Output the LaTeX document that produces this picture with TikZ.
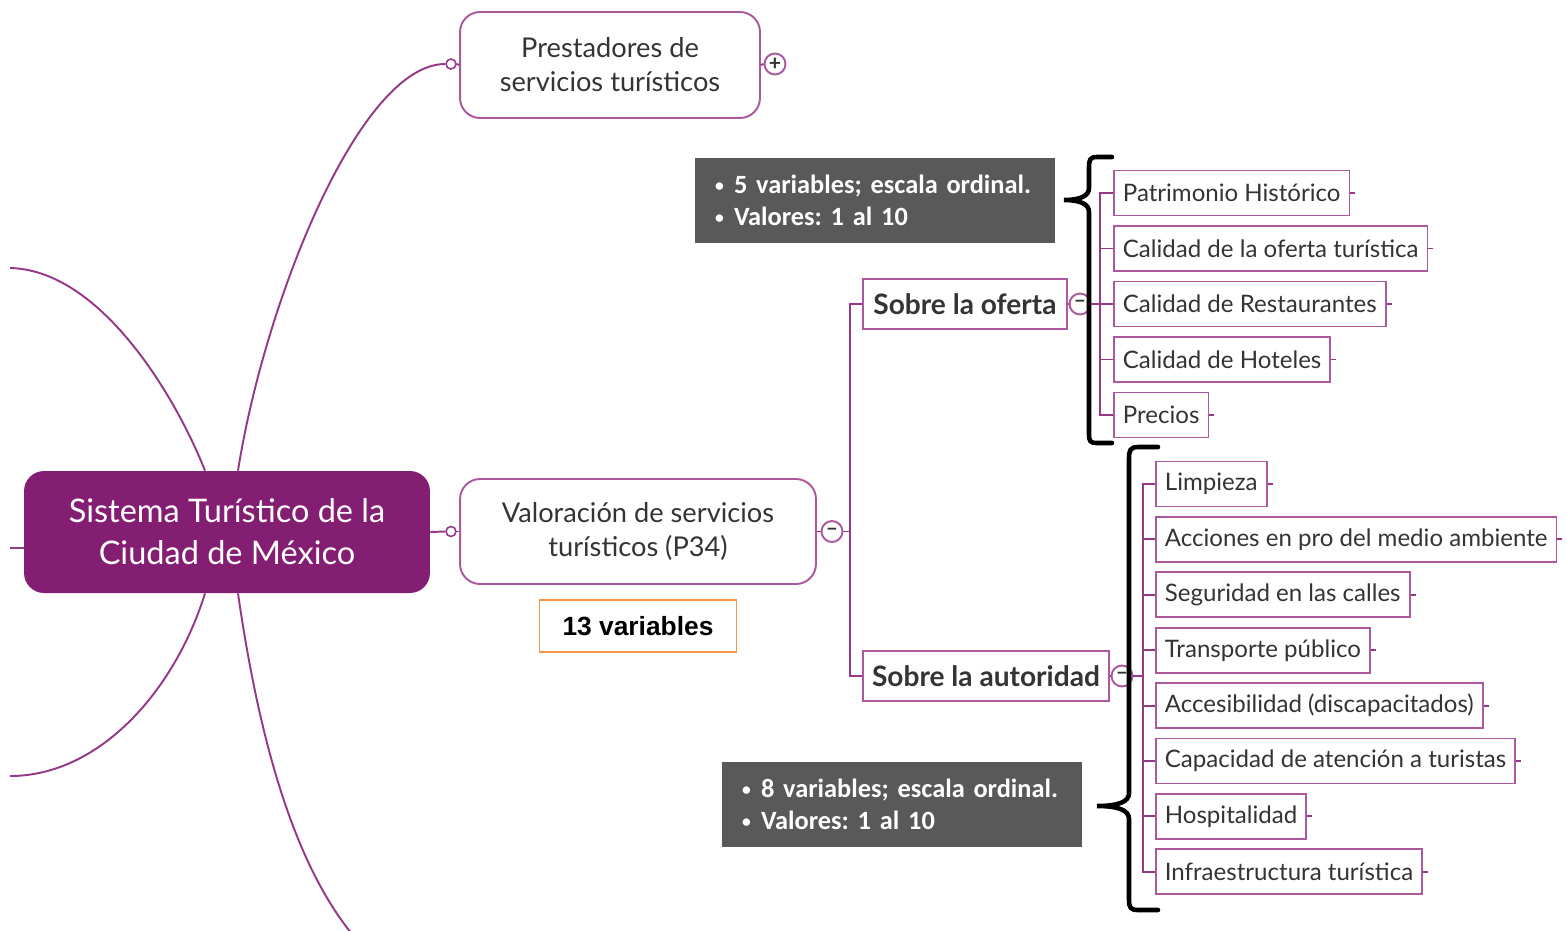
\documentclass[tikz,border=0pt]{standalone}
\usepackage{fontspec}
\setmainfont{Lato}
\newfontfamily\notefont{Carlito}
\newfontfamily\tallyfont{Liberation Sans}
\usepackage{tikz}
\usetikzlibrary{positioning}
\definecolor{mapplum}{RGB}{132,30,114}
\definecolor{mapline}{RGB}{150,55,135}
\definecolor{mapedge}{RGB}{172,88,158}
\definecolor{notegray}{RGB}{89,89,89}
\definecolor{tallyorange}{RGB}{247,150,70}
\definecolor{inktext}{RGB}{52,52,52}
\newcommand{\notebullet}{\makebox[0.38cm][l]{\raisebox{0.15ex}{\fontsize{10}{10}\selectfont\textbullet}}}
\frenchspacing

\begin{document}
\begin{tikzpicture}[
  x=0.02cm, y=-0.02cm,
  rootbox/.style={rectangle, rounded corners=0.4cm, fill=mapplum, text=white, minimum width=8.12cm, minimum height=2.44cm, align=center, font=\fontsize{18.5}{24}\selectfont},
  topicbox/.style={rectangle, rounded corners=0.4cm, draw=mapedge, line width=1.1pt, fill=white, text=inktext, align=center, font=\fontsize{15.5}{19.3}\selectfont},
  branchbox/.style={rectangle, draw=mapedge, line width=1.1pt, fill=white, text=inktext, minimum height=1cm, anchor=west, font=\bfseries\fontsize{16}{18}\selectfont},
  itembox/.style={rectangle, draw=mapedge, line width=1pt, fill=white, text=inktext, minimum height=0.9cm, inner xsep=0.18cm, anchor=west, font=\fontsize{13.7}{15}\selectfont},
  notebox/.style={rectangle, fill=notegray, text=white, inner xsep=0.4cm, text width=6.4cm, minimum height=1.7cm, align=left, font=\notefont\bfseries\fontsize{15}{18.1}\selectfont},
  tallybox/.style={rectangle, draw=tallyorange, line width=0.9pt, fill=white, minimum width=3.94cm, minimum height=1.04cm, font=\tallyfont\bfseries\fontsize{15}{17}\selectfont},
  branch/.style={draw=mapline, line width=1.1pt},
  socket/.style={circle, draw=mapline, fill=white, line width=0.9pt, inner sep=0pt, minimum size=0.2cm},
  knob/.style={circle, draw=mapedge, fill=white, line width=1.1pt, inner sep=0pt, minimum size=0.42cm, text=inktext, font=\bfseries\fontsize{12}{12}\selectfont},
  bracket/.style={black, line width=2.6pt, line cap=round}
]
\useasboundingbox (0,0) rectangle (1567,930);

% central topic and its two branches
\node[rootbox] (root) at (227,532) {Sistema Turístico de la\\ Ciudad de México};
\node[topicbox, minimum width=6cm, minimum height=2.12cm] (prest) at (610,65) {Prestadores de\\ servicios turísticos};
\node[topicbox, minimum width=7.12cm, minimum height=2.1cm] (valor) at (638,531.5) {Valoración de servicios\\ turísticos (P34)};
\node[tallybox, below=0.28cm of valor] (tally) {13 variables};

\node[socket] (psock) at (451,64) {};
\node[socket] (vsock) at (451,531.5) {};
\node[knob] (pknob) at (775,64) {+};
\node[knob] (vknob) at (832,531.5) {--};

% loose ends of the other branches
\coordinate (lostA) at (10,268);
\coordinate (lostB) at (10,776);
\coordinate (lostC) at (352,934);
\coordinate (lostD) at (10,548);

\draw[branch] ([xshift=-0.44cm]root.north) .. controls (175,395) and (100,270) .. (lostA);
\draw[branch] ([xshift=0.22cm]root.north) .. controls (265,300) and (360,64) .. (psock.west);
\draw[branch] ([xshift=-0.44cm]root.south) .. controls (175,690) and (100,776) .. (lostB);
\draw[branch] ([xshift=0.22cm]root.south) .. controls (262,760) and (300,870) .. (lostC);
\draw[branch] (root.west |- lostD) -- (lostD);
\draw[branch] (root.east) -- (vsock.west);
\draw[branch] (vsock.east) -- (valor.west);
\draw[branch] (psock.east) -- (prest.west);
\draw[branch] (prest.east) -- (pknob.west);

% second level
\node[branchbox, minimum width=4.08cm] (oferta) at (862,304) {Sobre la oferta};
\node[branchbox, minimum width=4.92cm] (autor) at (862,676) {Sobre la autoridad};
\node[knob] (oknob) at (1080,304) {--};
\node[knob] (aknob) at (1122,676) {--};

\coordinate (vbus) at (850,531.5);
\coordinate (obus) at (1100,304);
\coordinate (abus) at (1143,676);

\draw[branch] (valor.east) -- (vknob.west);
\draw[branch] (vknob.east) -- (vbus);
\draw[branch] (vbus) |- (oferta.west);
\draw[branch] (vbus) |- (autor.west);
\draw[branch] (oferta.east) -- (oknob.west);
\draw[branch] (oknob.east) -- (obus);
\draw[branch] (autor.east) -- (aknob.west);
\draw[branch] (aknob.east) -- (abus);

% variables
\foreach \entry [count=\i] in {Patrimonio Histórico, Calidad de la oferta turística, Calidad de Restaurantes, Calidad de Hoteles, Precios}{
  \node[itembox] (of\i) at (1113,{193+55.5*(\i-1)}) {\entry};
  \draw[branch] (obus) |- (of\i.west);
  \draw[branch] (of\i.east) -- ++(5,0);
}
\foreach \entry [count=\i] in {Limpieza, Acciones en pro del medio ambiente, Seguridad en las calles, Transporte público, Accesibilidad (discapacitados), Capacidad de atención a turistas, Hospitalidad, Infraestructura turística}{
  \node[itembox] (au\i) at (1155,{484+55.4*(\i-1)}) {\entry};
  \draw[branch] (abus) |- (au\i.west);
  \draw[branch] (au\i.east) -- ++(5,0);
}

% notes and braces
\node[notebox] (noteA) at (875,200.5) {\notebullet 5 variables; escala ordinal.\\ \notebullet Valores: 1 al 10};
\node[notebox] (noteB) at (902,804.5) {\notebullet 8 variables; escala ordinal.\\ \notebullet Valores: 1 al 10};

\draw[bracket] (1112,157) -- (1097,157) .. controls (1090,157) and (1089,160) .. (1089,167) -- (1089,188)
  .. controls (1089,196) and (1080,200) .. (1064,200) .. controls (1080,200) and (1089,204) .. (1089,212)
  -- (1089,434) .. controls (1089,441) and (1090,443) .. (1097,443) -- (1112,443);
\draw[bracket] (1158,447) -- (1138,447) .. controls (1130,447) and (1129,451) .. (1129,458) -- (1129,793)
  .. controls (1129,802) and (1118,806) .. (1097,806) .. controls (1118,806) and (1129,810) .. (1129,819)
  -- (1129,900) .. controls (1129,908) and (1131,910) .. (1138,910) -- (1158,910);
\end{tikzpicture}
\end{document}
